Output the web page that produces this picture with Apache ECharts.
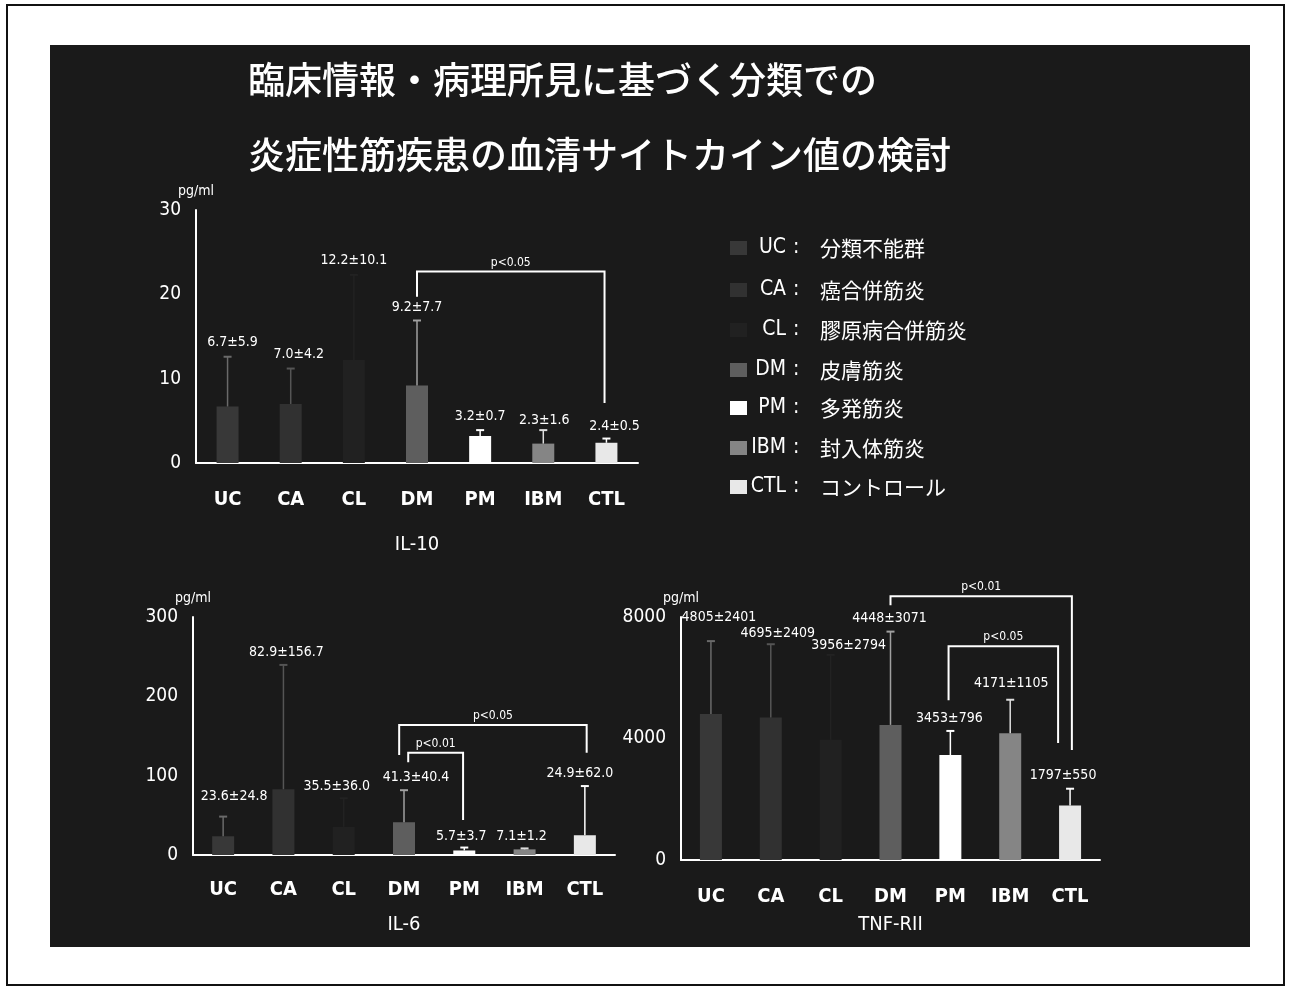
<!DOCTYPE html>
<html><head><meta charset="utf-8">
<script src="https://cdn.jsdelivr.net/npm/echarts@6/dist/echarts.min.js"></script>
<style>html,body{margin:0;padding:0;background:#fff}#c{width:1290px;height:990px}</style>
</head><body><div id="c"></div>
<script>
// ---------- data ----------
const categories = ['UC','CA','CL','DM','PM','IBM','CTL'];
const legendNames = ['分類不能群','癌合併筋炎','膠原病合併筋炎','皮膚筋炎','多発筋炎','封入体筋炎','コントロール'];
const titleLines = ['臨床情報・病理所見に基づく分類での','炎症性筋疾患の血清サイトカイン値の検討'];

const il10Mean = [6.7, 7.0, 12.2, 9.2, 3.2, 2.3, 2.4];
const il10Sd   = [5.9, 4.2, 10.1, 7.7, 0.7, 1.6, 0.5];
const il10Ticks = {min: 0, max: 30, interval: 10};

const il6Mean = [23.6, 82.9, 35.5, 41.3, 5.7, 7.1, 24.9];
const il6Sd   = [24.8, 156.7, 36.0, 40.4, 3.7, 1.2, 62.0];
const il6Ticks = {min: 0, max: 300, interval: 100};

const tnfMean = [4805, 4695, 3956, 4448, 3453, 4171, 1797];
const tnfSd   = [2401, 2409, 2794, 3071, 796, 1105, 550];
const tnfTicks = {min: 0, max: 8000, interval: 4000};

// significance brackets: from/to category index, bar level, left/right leg ends (values)
const il10Brackets = [{from: 3, to: 6, level: 22.7, leftEnd: 19.7, rightEnd: 7.1, text: 'p<0.05'}];
const il6Brackets = [
  {from: 3, to: 6, level: 164, leftEnd: 126, rightEnd: 129, text: 'p<0.05'},
  {from: 3, to: 4, level: 129, leftEnd: 117, rightEnd: 44, text: 'p<0.01'}
];
const tnfBrackets = [
  {from: 3, to: 6, level: 8684, leftEnd: 8388, rightEnd: 3618, text: 'p<0.01'},
  {from: 4, to: 6, level: 7039, leftEnd: 5263, rightEnd: 3849, text: 'p<0.05'}
];

// ---------- styles / layout ----------
const barColors = ['#383838','#313131','#212121','#5e5e5e','#ffffff','#858585','#e8e8e8'];
const errColors = ['#6a6a6a','#555555','#222222','#a0a0a0','#ffffff','#dddddd','#ffffff'];
const SLIDE = '#1a1a1a';
const LATIN = '"DejaVu Sans Condensed","DejaVu Sans",sans-serif';
const CJK = '"Noto Sans CJK JP",sans-serif';

const panels = [
  {mean: il10Mean, sd: il10Sd, ticks: il10Ticks, name: 'IL-10', brackets: il10Brackets,
   grid: {left: 196, top: 210, width: 442, height: 253}, labelMargin: 27, nameGap: 72,
   labelOff: [[5,-14],[8,-14],[0,-15],[0,-13],[0,-14],[1,-10],[8,-12]],
   bracketDx: [[0,-0.03]]},
  {mean: il6Mean, sd: il6Sd, ticks: il6Ticks, name: 'IL-6', brackets: il6Brackets,
   grid: {left: 193, top: 617, width: 422, height: 238}, labelMargin: 25, nameGap: 60,
   labelOff: [[11,-20],[3,-13],[-7,-12],[12,-13],[-3,-11],[-3,-12],[-5,-13]],
   bracketDx: [[-0.08,0.03],[0.07,-0.02]]},
  {mean: tnfMean, sd: tnfSd, ticks: tnfTicks, name: 'TNF-RII', brackets: tnfBrackets,
   grid: {left: 681, top: 617, width: 419, height: 243}, labelMargin: 27, nameGap: 55,
   labelOff: [[8,-24],[7,-11],[18,-10],[-1,-13],[-1,-13],[1,-16],[-7,-13]],
   bracketDx: [[0,0.03],[-0.03,-0.2]]}
];

function label(m, s, isInt) {
  return isInt ? (m + '±' + s) : (m.toFixed(1) + '±' + s.toFixed(1));
}

const grids = [], xAxes = [], yAxes = [], series = [];
panels.forEach((p, k) => {
  const isInt = k === 2;
  grids.push(p.grid);
  xAxes.push({
    type: 'category', gridIndex: k, data: categories,
    axisLine: {show: true, lineStyle: {color: '#fff', width: 2}},
    axisTick: {show: false},
    axisLabel: {color: '#fff', fontFamily: LATIN, fontWeight: 'bold', fontSize: 20, margin: p.labelMargin},
    name: p.name, nameLocation: 'middle', nameGap: p.nameGap,
    nameTextStyle: {color: '#fff', fontFamily: LATIN, fontSize: 20}
  });
  yAxes.push({
    type: 'value', gridIndex: k, min: p.ticks.min, max: p.ticks.max, interval: p.ticks.interval,
    axisLine: {show: true, lineStyle: {color: '#fff', width: 2}},
    axisTick: {show: false}, splitLine: {show: false},
    axisLabel: {color: '#fff', fontFamily: LATIN, fontSize: 19, margin: 15, formatter: v => String(v)},
    name: 'pg/ml', nameLocation: 'end', nameGap: 12,
    nameTextStyle: {color: '#fff', fontFamily: LATIN, fontSize: 14, align: 'center'}
  });
  series.push({
    type: 'bar', xAxisIndex: k, yAxisIndex: k, barWidth: 22, silent: true,
    data: p.mean.map((v, i) => ({value: v, itemStyle: {color: barColors[i]}}))
  });
  series.push({
    type: 'custom', xAxisIndex: k, yAxisIndex: k, silent: true, clip: false, z: 5,
    data: p.mean.map((m, i) => [i, m, p.sd[i]]),
    renderItem: function (params, api) {
      const i = api.value(0), m = api.value(1), s = api.value(2);
      const b = api.coord([i, m]), t = api.coord([i, m + s]);
      const c = errColors[i];
      const off = p.labelOff[i];
      return {type: 'group', children: [
        {type: 'line', shape: {x1: b[0], y1: b[1], x2: t[0], y2: t[1]}, style: {stroke: c, lineWidth: 1.5}},
        {type: 'line', shape: {x1: t[0] - 4, y1: t[1], x2: t[0] + 4, y2: t[1]}, style: {stroke: c, lineWidth: 2}},
        {type: 'text', style: {text: label(m, s, isInt), x: t[0] + off[0], y: t[1] + off[1],
          fill: '#fff', font: '14px ' + LATIN, align: 'center', verticalAlign: 'middle'}}
      ]};
    }
  });
  series.push({
    type: 'custom', xAxisIndex: k, yAxisIndex: k, silent: true, clip: false, z: 6,
    data: p.brackets.map(b => [b.from, b.to, b.level, b.leftEnd, b.rightEnd]),
    renderItem: function (params, api) {
      const bw = api.size([1, 0])[0];
      const dx = p.bracketDx[params.dataIndex];
      const f = api.value(0), t = api.value(1);
      const lv = api.value(2), le = api.value(3), re = api.value(4);
      const x1 = api.coord([f, lv])[0] + dx[0] * bw;
      const x2 = api.coord([t, lv])[0] + dx[1] * bw;
      const yH = api.coord([f, lv])[1], yL = api.coord([f, le])[1], yR = api.coord([f, re])[1];
      return {type: 'group', children: [
        {type: 'polyline', shape: {points: [[x1, yL], [x1, yH], [x2, yH], [x2, yR]]},
         style: {stroke: '#fff', lineWidth: 2, fill: null}},
        {type: 'text', style: {text: p.brackets[params.dataIndex].text, x: (x1 + x2) / 2, y: yH - 9,
          fill: '#fff', font: '12px ' + LATIN, align: 'center', verticalAlign: 'middle'}}
      ]};
    }
  });
});

// ---------- graphic (page frame, slide, title, legend) ----------
const graphics = [
  {type: 'rect', z: -100, shape: {x: 7, y: 5, width: 1277, height: 980}, style: {fill: '#fff', stroke: '#111', lineWidth: 2}},
  {type: 'rect', z: -99, shape: {x: 50, y: 45, width: 1200, height: 902}, style: {fill: SLIDE}}
];
titleLines.forEach((t, i) => {
  graphics.push({type: 'text', z: 10, x: 248, y: 80 + i * 75,
    style: {text: t, fill: '#fff', font: '500 37px ' + CJK, align: 'left', verticalAlign: 'middle'}});
});
const legendY = [248, 290, 330, 370, 408, 448, 487];
categories.forEach((c, i) => {
  const y = legendY[i];
  graphics.push({type: 'rect', z: 10, shape: {x: 730, y: y - 7, width: 17, height: 14}, style: {fill: barColors[i]}});
  graphics.push({type: 'text', z: 10, x: 786, y: y,
    style: {text: c, fill: '#fff', font: '21px ' + LATIN, align: 'right', verticalAlign: 'middle'}});
  graphics.push({type: 'text', z: 10, x: 793, y: y,
    style: {text: ':', fill: '#fff', font: '21px ' + LATIN, align: 'left', verticalAlign: 'middle'}});
  graphics.push({type: 'text', z: 10, x: 820, y: y,
    style: {text: legendNames[i], fill: '#fff', font: '21px ' + CJK, align: 'left', verticalAlign: 'middle'}});
});

const chart = echarts.init(document.getElementById('c'), null, {renderer: 'canvas'});
chart.setOption({
  backgroundColor: '#fff',
  animation: false,
  graphic: {elements: graphics},
  grid: grids, xAxis: xAxes, yAxis: yAxes, series: series
});
</script>
</body></html>
